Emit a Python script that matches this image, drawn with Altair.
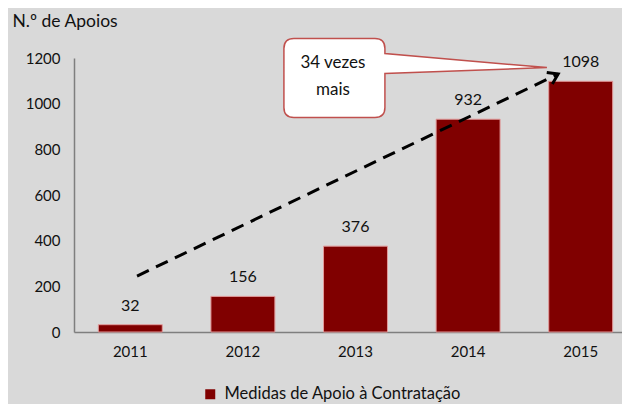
import altair as alt
import pandas as pd

# ---- data ----
years = ["2011", "2012", "2013", "2014", "2015"]
apoios = [32, 156, 376, 932, 1098]
series_name = "Medidas de Apoio à Contratação"
y_ticks = [0, 200, 400, 600, 800, 1000, 1200]
y_title = "N.º de Apoios"
callout_label = "34 vezes\nmais"

# annotation anchors (x in category-slot units: slot i spans [i, i+1])
arrow_x = [0.56, 4.30]
arrow_y = [245, 1130]
callout_x = [4.20]
callout_y = [1158]

FONT = "Lato"
BAR = "#800000"
BG = "#d9d9d9"
AXIS = "#7f7f7f"
RED = "#c0504d"
RANGE = [0, 563]

df = pd.DataFrame({"year": years, "value": apoios, "series": [series_name] * len(years)})
arrow_df = pd.DataFrame({"pos": arrow_x, "value": arrow_y})
tip_df = pd.DataFrame({"pos": arrow_x[-1:], "value": arrow_y[-1:]})
call_df = pd.DataFrame({"pos": callout_x, "value": callout_y, "label": [callout_label]})

y_scale = alt.Scale(domain=[0, 1200], nice=False)
y_axis = alt.Axis(values=y_ticks, format="d", grid=False, ticks=False, domainColor=AXIS,
                  domainWidth=1.5, labelFontSize=15, labelFont=FONT, labelColor="#111",
                  labelPadding=14, title=y_title, titleAngle=0, titleX=-62, titleY=-37,
                  titleAlign="left", titleBaseline="middle", titleFontWeight="normal",
                  titleFontSize=17.5, titleFont=FONT, titleColor="#111")
y_enc = alt.Y("value:Q", scale=y_scale, axis=y_axis, title=y_title)

x_band = alt.X(
    "year:N",
    scale=alt.Scale(range=RANGE, paddingInner=0.432, paddingOuter=0.216),
    axis=alt.Axis(title=None, labelAngle=0, ticks=False, domainColor=AXIS, domainWidth=1.5,
                  labelFontSize=15, labelFont=FONT, labelColor="#111", labelPadding=12),
)

bars = alt.Chart(df).mark_bar(stroke="#e29a9a", strokeWidth=1).encode(
    x=x_band,
    y=y_enc,
    color=alt.Color(
        "series:N",
        scale=alt.Scale(domain=[series_name], range=[BAR]),
        legend=alt.Legend(orient="none", legendX=128, legendY=328, title=None,
                          symbolType="square", symbolSize=100, labelFontSize=16.5,
                          labelFont=FONT, labelColor="#111", padding=0, labelOffset=6,
                          symbolStrokeWidth=0, labelLimit=500),
    ),
)

labels = alt.Chart(df).mark_text(
    baseline="alphabetic", dy=-14, fontSize=16, font=FONT, color="#111"
).encode(
    x=alt.X("year:N"),
    y=y_enc,
    text=alt.Text("value:Q"),
)

main = alt.layer(bars, labels)

x_q = alt.X("pos:Q", scale=alt.Scale(domain=[0, 5], range=RANGE, nice=False, zero=False), axis=None)

arrow_line = alt.Chart(arrow_df).mark_line(
    color="black", strokeWidth=3, strokeDash=[13, 8]
).encode(x=x_q, y=y_enc)

arrow_head = alt.Chart(tip_df).mark_point(
    shape="M-0.8,1.2L0,0L0.8,1.2", size=256, filled=False, stroke="black",
    strokeWidth=3, angle=64, opacity=1
).encode(x=x_q, y=y_enc)

callout_box = alt.Chart(call_df).mark_point(
    shape=("M-253,-29L-172,-29Q-162,-29,-162,-19L-162,-14L0,0L-162,6L-162,40"
           "Q-162,50,-172,50L-253,50Q-263,50,-263,40L-263,-19Q-263,-29,-253,-29Z"),
    size=4, filled=True, fill="white", stroke=RED, strokeWidth=1.5, opacity=1, fillOpacity=1
).encode(x=x_q, y=y_enc)

callout_text = alt.Chart(call_df).mark_text(
    fontSize=17, font=FONT, color="#111", lineBreak="\n", lineHeight=27,
    dx=-214, dy=-5, baseline="middle", align="center"
).encode(x=x_q, y=y_enc, text="label:N")

annotations = alt.layer(arrow_line, arrow_head, callout_box, callout_text)

chart = alt.layer(main, annotations).resolve_scale(x="independent").properties(
    width=548, height=274,
    autosize=alt.AutoSizeParams(type="none"),
    padding={"left": 66, "top": 50, "right": 0, "bottom": 72},
).configure(background=BG).configure_view(stroke=None)

chart.save("out.html", embed_options={"renderer": "svg", "actions": False})
